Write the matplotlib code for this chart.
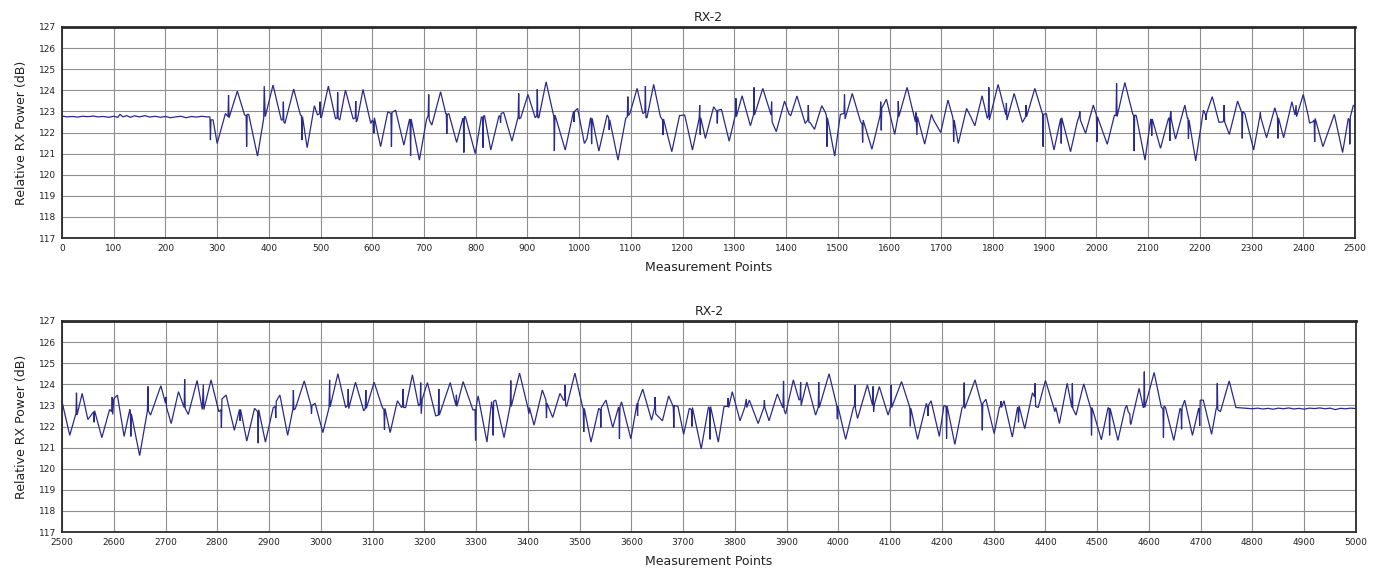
import matplotlib
matplotlib.use("Agg")
import matplotlib.pyplot as plt

title = "RX-2"
xlabel = "Measurement Points"
ylabel = "Relative RX Power (dB)"
y_ticks = list(range(117, 128))
top_ticks = list(range(0, 2501, 100))
bottom_ticks = list(range(2500, 5001, 100))

top_points = [
    (0, 122.78), (10, 122.74), (20, 122.76), (30, 122.73), (40, 122.77), (50, 122.75), (60, 122.78),
    (70, 122.74), (80, 122.76), (90, 122.72), (100, 122.77), (108, 122.72), (112, 122.86), (118, 122.74),
    (125, 122.8), (132, 122.72), (140, 122.79), (150, 122.74), (160, 122.8), (170, 122.73), (180, 122.77),
    (190, 122.72), (200, 122.76), (210, 122.7), (220, 122.74), (230, 122.77), (240, 122.7), (250, 122.76),
    (260, 122.73), (270, 122.77), (280, 122.74), (286, 122.74),
    (287, 121.64), (288, 122.6), (292, 122.6), (300, 121.48), (316, 122.9), (321, 122.75), (322, 123.77),
    (323, 122.7), (339, 123.96), (353, 122.83), (356, 122.8), (357, 121.33), (358, 122.86), (361, 122.86),
    (378, 120.88), (390, 122.67), (391, 124.2), (393, 122.75), (408, 124.25), (424, 122.59), (427, 122.6),
    (428, 123.46), (429, 122.5), (431, 122.43), (448, 124.06), (461, 122.83), (463, 122.8), (464, 121.64),
    (465, 122.75), (474, 121.28), (488, 123.27), (494, 122.83), (498, 122.9), (499, 123.46), (500, 122.7),
    (502, 122.75), (515, 124.2), (529, 122.64), (532, 122.7), (533, 123.9), (534, 122.67), (537, 122.59),
    (548, 124.01), (563, 122.64), (567, 122.7), (568, 123.49), (569, 122.5), (571, 122.6), (582, 124.04),
    (597, 122.43), (600, 122.59), (602, 122.5), (603, 121.96), (604, 122.7), (616, 121.33), (630, 122.98),
    (636, 122.9), (637, 121.33), (638, 122.95), (645, 123.06), (661, 121.4), (672, 122.64), (673, 122.6),
    (674, 120.9), (675, 122.64), (691, 120.69), (705, 122.64), (708, 122.8), (709, 123.8), (710, 122.6),
    (715, 122.35), (732, 123.93), (742, 122.9), (743, 122.9), (744, 121.93), (745, 122.85), (748, 122.9),
    (763, 121.53), (775, 122.67), (776, 122.6), (777, 121.05), (778, 122.75), (780, 122.75), (799, 121.0),
    (811, 122.75), (813, 122.7), (814, 121.28), (815, 122.78), (817, 122.8), (829, 121.17), (845, 122.8),
    (847, 122.75), (848, 122.46), (849, 122.9), (854, 122.95), (870, 121.59), (882, 122.75), (883, 123.85),
    (884, 122.64), (887, 122.7), (901, 123.8), (915, 122.7), (918, 122.8), (919, 124.06), (920, 122.7),
    (922, 122.7), (936, 124.4), (951, 122.75), (952, 121.12), (953, 122.83), (956, 122.6), (973, 121.17),
    (989, 123.0), (990, 122.5), (991, 123.0), (997, 123.14), (1010, 121.48), (1015, 121.7), (1022, 122.7),
    (1023, 122.6), (1024, 121.45), (1025, 122.67), (1038, 121.12), (1054, 122.83), (1057, 122.7),
    (1058, 122.12), (1059, 122.6), (1075, 120.69), (1090, 122.67), (1093, 122.75), (1094, 123.7),
    (1095, 122.8), (1098, 122.9), (1112, 124.09), (1123, 122.9), (1127, 122.95), (1128, 124.2),
    (1129, 122.7), (1131, 122.7), (1144, 124.28), (1157, 122.75), (1161, 122.6), (1162, 121.88),
    (1163, 122.64), (1179, 121.09), (1194, 122.8), (1204, 122.83), (1219, 121.17), (1232, 122.67),
    (1233, 123.3), (1234, 121.9), (1235, 122.7), (1244, 121.72), (1260, 123.22), (1266, 123.0),
    (1267, 122.43), (1268, 123.05), (1275, 123.1), (1290, 121.59), (1302, 122.83), (1303, 123.62),
    (1304, 122.75), (1315, 123.74), (1331, 122.32), (1337, 122.83), (1338, 124.14), (1339, 122.83),
    (1355, 124.09), (1371, 122.83), (1372, 123.46), (1373, 122.5), (1381, 122.04), (1397, 123.49),
    (1406, 122.86), (1409, 122.8), (1421, 123.73), (1437, 122.43), (1442, 122.6), (1443, 123.3),
    (1444, 122.5), (1447, 122.45), (1455, 122.15), (1469, 123.27), (1476, 122.95), (1478, 122.8),
    (1479, 121.33), (1480, 122.7), (1494, 120.88), (1505, 122.86), (1512, 122.9), (1513, 123.8),
    (1514, 122.64), (1528, 123.85), (1544, 122.51), (1547, 122.4), (1548, 121.53), (1549, 122.59),
    (1566, 121.21), (1582, 122.83), (1583, 123.46), (1584, 122.1), (1585, 123.15), (1594, 123.58),
    (1610, 121.91), (1616, 122.7), (1617, 123.49), (1618, 122.75), (1634, 124.14), (1650, 122.51),
    (1651, 122.95), (1653, 121.88), (1654, 122.75), (1668, 121.45), (1681, 122.86), (1685, 122.6),
    (1699, 122.0), (1713, 123.54), (1722, 122.75), (1723, 122.6), (1724, 121.56), (1725, 122.59),
    (1733, 121.48), (1749, 123.14), (1756, 122.8), (1765, 122.32), (1779, 123.74), (1789, 122.67),
    (1791, 122.8), (1792, 124.14), (1793, 122.59), (1810, 124.28), (1825, 122.83), (1826, 123.4),
    (1827, 122.59), (1841, 123.85), (1857, 122.48), (1863, 122.75), (1864, 123.3), (1865, 122.75),
    (1881, 124.09), (1896, 122.86), (1897, 121.33), (1898, 122.86), (1903, 122.9), (1918, 121.17),
    (1931, 122.67), (1932, 121.48), (1933, 122.7), (1950, 121.09), (1963, 122.51), (1967, 122.8),
    (1968, 123.0), (1969, 122.59), (1979, 121.96), (1994, 123.3), (2000, 122.83), (2001, 121.56),
    (2002, 122.75), (2021, 121.44), (2035, 122.83), (2038, 122.8), (2039, 124.33), (2040, 122.75),
    (2055, 124.37), (2070, 122.9), (2072, 122.8), (2073, 121.12), (2074, 122.83), (2077, 122.8),
    (2094, 120.69), (2105, 122.64), (2106, 122.6), (2107, 121.85), (2108, 122.64), (2124, 121.25),
    (2139, 122.64), (2141, 122.7), (2142, 121.6), (2143, 122.9), (2144, 123.0), (2145, 122.6),
    (2153, 121.69), (2171, 123.3), (2176, 122.67), (2177, 122.7), (2178, 121.7), (2179, 122.6),
    (2192, 120.65), (2207, 123.06), (2211, 122.83), (2212, 122.6), (2213, 122.9), (2224, 123.7),
    (2237, 122.48), (2244, 122.5), (2246, 122.55), (2247, 123.3), (2248, 122.5), (2257, 121.91),
    (2273, 123.49), (2281, 122.95), (2282, 121.72), (2283, 123.0), (2287, 122.9), (2304, 121.17),
    (2316, 122.75), (2317, 122.95), (2318, 122.7), (2329, 121.75), (2345, 123.17), (2350, 122.75),
    (2351, 121.72), (2352, 122.7), (2362, 121.75), (2378, 123.46), (2384, 122.83), (2386, 123.3),
    (2387, 122.75), (2400, 123.8), (2410, 122.75), (2412, 122.45), (2418, 122.5), (2421, 122.59),
    (2422, 121.56), (2423, 122.67), (2438, 121.33), (2460, 122.86), (2476, 121.05), (2487, 122.67),
    (2489, 122.6), (2490, 121.44), (2491, 122.75), (2497, 123.3), (2500, 123.2),
]

bottom_points = [
    (2500, 123.18), (2515, 121.58), (2526, 122.54), (2527, 122.6), (2528, 123.6), (2529, 122.54),
    (2539, 123.57), (2550, 122.33), (2561, 122.7), (2562, 122.2), (2563, 122.75), (2577, 121.47),
    (2592, 122.81), (2596, 122.7), (2597, 123.4), (2598, 122.57), (2600, 123.3), (2607, 123.49),
    (2620, 121.53), (2631, 122.81), (2632, 122.7), (2633, 121.53), (2634, 122.6), (2650, 120.62),
    (2665, 122.74), (2666, 123.9), (2667, 122.74), (2671, 122.54), (2691, 123.93), (2700, 123.1),
    (2701, 123.4), (2702, 122.9), (2711, 122.14), (2725, 123.65), (2736, 122.9), (2737, 124.24),
    (2738, 122.86), (2744, 122.57), (2761, 124.18), (2771, 122.81), (2773, 124.0), (2774, 122.8),
    (2788, 124.21), (2803, 122.7), (2807, 122.8), (2808, 121.95), (2809, 123.3), (2817, 123.49),
    (2833, 121.82), (2843, 122.81), (2844, 122.27), (2845, 122.81), (2857, 121.31), (2872, 122.86),
    (2878, 122.7), (2879, 121.21), (2880, 122.8), (2893, 121.26), (2908, 122.89), (2912, 122.95),
    (2913, 122.4), (2914, 123.2), (2921, 123.49), (2936, 121.58), (2946, 122.81), (2947, 123.73),
    (2948, 122.78), (2951, 122.86), (2968, 124.16), (2981, 123.0), (2982, 122.6), (2983, 123.0),
    (2989, 123.1), (3004, 121.71), (3016, 122.9), (3017, 124.21), (3018, 122.93), (3033, 124.5),
    (3048, 122.9), (3052, 123.0), (3053, 123.78), (3054, 122.85), (3067, 124.1), (3083, 122.74),
    (3086, 122.86), (3087, 123.73), (3088, 122.86), (3103, 124.1), (3119, 122.9), (3122, 122.8),
    (3123, 121.85), (3124, 122.86), (3134, 121.71), (3148, 123.22), (3156, 122.9), (3158, 122.95),
    (3159, 123.78), (3160, 122.9), (3164, 122.9), (3177, 124.45), (3189, 122.97), (3192, 123.1),
    (3193, 124.08), (3194, 122.6), (3196, 123.3), (3206, 124.08), (3222, 122.5), (3227, 122.54),
    (3228, 123.78), (3229, 122.54), (3250, 124.08), (3261, 123.0), (3262, 123.5), (3263, 122.95),
    (3275, 124.13), (3294, 122.78), (3298, 122.8), (3299, 121.34), (3300, 122.9), (3304, 123.45),
    (3321, 121.26), (3330, 123.18), (3332, 122.8), (3333, 121.58), (3334, 123.2), (3338, 123.25),
    (3354, 121.47), (3366, 123.0), (3367, 124.18), (3368, 122.95), (3384, 124.53), (3400, 122.9),
    (3402, 122.6), (3403, 122.9), (3412, 122.06), (3428, 123.73), (3435, 123.25), (3436, 122.4),
    (3437, 123.1), (3448, 122.43), (3462, 123.57), (3469, 123.25), (3471, 123.25), (3472, 123.97),
    (3473, 123.0), (3475, 122.95), (3491, 124.53), (3506, 122.9), (3507, 122.85), (3508, 121.74),
    (3509, 122.86), (3522, 121.26), (3537, 122.86), (3540, 122.8), (3541, 121.95), (3542, 122.9),
    (3551, 123.25), (3564, 121.95), (3575, 122.9), (3576, 122.85), (3577, 121.42), (3578, 122.95),
    (3581, 123.17), (3599, 121.42), (3611, 123.1), (3612, 122.5), (3613, 123.17), (3622, 123.77),
    (3639, 122.3), (3645, 122.9), (3646, 123.4), (3647, 122.6), (3660, 122.27), (3672, 123.45),
    (3680, 123.0), (3681, 122.9), (3682, 121.95), (3683, 123.0), (3690, 122.95), (3701, 121.63),
    (3712, 122.86), (3716, 122.8), (3717, 122.0), (3718, 122.9), (3735, 120.94), (3749, 122.93),
    (3751, 122.85), (3752, 121.39), (3753, 122.95), (3768, 121.26), (3779, 122.95), (3786, 122.95),
    (3787, 123.35), (3788, 122.9), (3795, 123.65), (3810, 122.27), (3819, 122.9), (3822, 123.3),
    (3823, 122.9), (3828, 123.25), (3845, 122.14), (3856, 122.9), (3857, 123.25), (3858, 122.9),
    (3866, 122.27), (3882, 123.54), (3892, 122.93), (3893, 122.9), (3894, 124.16), (3895, 122.8),
    (3898, 122.59), (3913, 124.21), (3924, 123.25), (3926, 123.3), (3927, 124.1), (3928, 123.0),
    (3939, 124.1), (3956, 122.54), (3961, 122.9), (3962, 124.1), (3963, 122.9), (3982, 124.5),
    (3997, 122.97), (3998, 122.35), (3999, 122.97), (4014, 121.39), (4029, 122.9), (4031, 122.95),
    (4032, 123.97), (4033, 122.85), (4037, 122.38), (4056, 123.97), (4066, 123.0), (4067, 123.9),
    (4068, 122.7), (4069, 123.0), (4079, 123.89), (4096, 122.54), (4101, 122.95), (4102, 123.97),
    (4103, 122.9), (4122, 124.13), (4137, 122.97), (4138, 122.9), (4139, 122.01), (4140, 122.86),
    (4153, 121.39), (4170, 123.1), (4172, 122.9), (4173, 122.5), (4174, 123.0), (4179, 123.22),
    (4195, 121.53), (4204, 123.0), (4208, 122.95), (4209, 121.42), (4210, 122.97), (4225, 121.15),
    (4239, 122.9), (4242, 122.95), (4243, 124.08), (4244, 122.85), (4264, 124.21), (4277, 123.0),
    (4278, 121.82), (4279, 123.1), (4285, 123.29), (4301, 121.66), (4311, 122.9), (4313, 122.95),
    (4314, 123.2), (4315, 122.9), (4320, 123.22), (4336, 121.5), (4346, 122.9), (4347, 122.85),
    (4348, 122.2), (4349, 122.97), (4360, 121.9), (4375, 123.6), (4379, 123.4), (4380, 124.05),
    (4381, 122.95), (4386, 122.9), (4400, 124.18), (4416, 122.9), (4418, 122.7), (4420, 122.9),
    (4427, 122.14), (4442, 124.05), (4451, 122.9), (4452, 124.05), (4453, 122.85), (4459, 122.54),
    (4474, 124.02), (4487, 122.9), (4488, 122.85), (4489, 121.58), (4490, 122.9), (4508, 121.37),
    (4521, 122.9), (4523, 122.85), (4524, 121.58), (4525, 122.86), (4540, 121.34), (4554, 122.86),
    (4557, 123.0), (4560, 122.7), (4563, 122.6), (4564, 122.15), (4565, 122.1), (4581, 123.81),
    (4589, 122.9), (4590, 122.95), (4591, 124.6), (4592, 122.9), (4610, 124.56), (4624, 122.9),
    (4627, 122.85), (4628, 121.47), (4629, 122.97), (4632, 122.9), (4648, 121.34), (4660, 122.86),
    (4662, 122.8), (4663, 121.87), (4664, 122.9), (4669, 123.25), (4684, 121.58), (4696, 122.86),
    (4697, 122.8), (4698, 122.03), (4699, 123.25), (4705, 123.25), (4721, 121.63), (4730, 122.86),
    (4731, 122.9), (4732, 124.05), (4733, 122.8), (4738, 122.7), (4755, 124.16), (4768, 122.9),
    (4780, 122.88), (4790, 122.86), (4800, 122.84), (4810, 122.87), (4820, 122.83), (4830, 122.86),
    (4840, 122.82), (4850, 122.87), (4860, 122.84), (4870, 122.88), (4880, 122.83), (4890, 122.86),
    (4900, 122.82), (4910, 122.87), (4920, 122.85), (4930, 122.88), (4940, 122.84), (4950, 122.87),
    (4960, 122.8), (4970, 122.86), (4980, 122.84), (4990, 122.87), (5000, 122.85),
]

W, H = 1385, 571
fig = plt.figure(figsize=(W / 100, H / 100), dpi=100)
fig.patch.set_facecolor("white")

line_color = "#2a2a8c"
grid_color = "#8f8f8f"

def make_panel(rect, points, ticks):
    ax = fig.add_axes(rect)
    xs = [p[0] for p in points]
    ys = [p[1] for p in points]
    ax.plot(xs, ys, color=line_color, lw=0.9, solid_joinstyle="miter")
    ax.set_xlim(ticks[0], ticks[-1])
    ax.set_ylim(y_ticks[0], y_ticks[-1])
    ax.set_xticks(ticks)
    ax.set_yticks(y_ticks)
    ax.tick_params(axis="both", length=0, labelsize=6.5, pad=4, colors="#222222")
    ax.grid(True, color=grid_color, lw=0.8)
    ax.set_axisbelow(True)
    for s in ax.spines.values():
        s.set_color("#2a2a2a")
        s.set_linewidth(1.3)
    ax.spines["top"].set_linewidth(2.0)
    ax.set_title(title, fontsize=9, pad=4, color="#222222")
    ax.set_xlabel(xlabel, fontsize=9, labelpad=6, color="#222222")
    ax.set_ylabel(ylabel, fontsize=9, labelpad=8, color="#222222")
    return ax

def rect_from_px(left, top, right, bottom):
    return [left / W, 1 - bottom / H, (right - left) / W, (bottom - top) / H]

make_panel(rect_from_px(62, 27, 1355, 238), top_points, top_ticks)
make_panel(rect_from_px(62, 321, 1356, 532), bottom_points, bottom_ticks)

fig.savefig("out.png", dpi=100, facecolor="white")
